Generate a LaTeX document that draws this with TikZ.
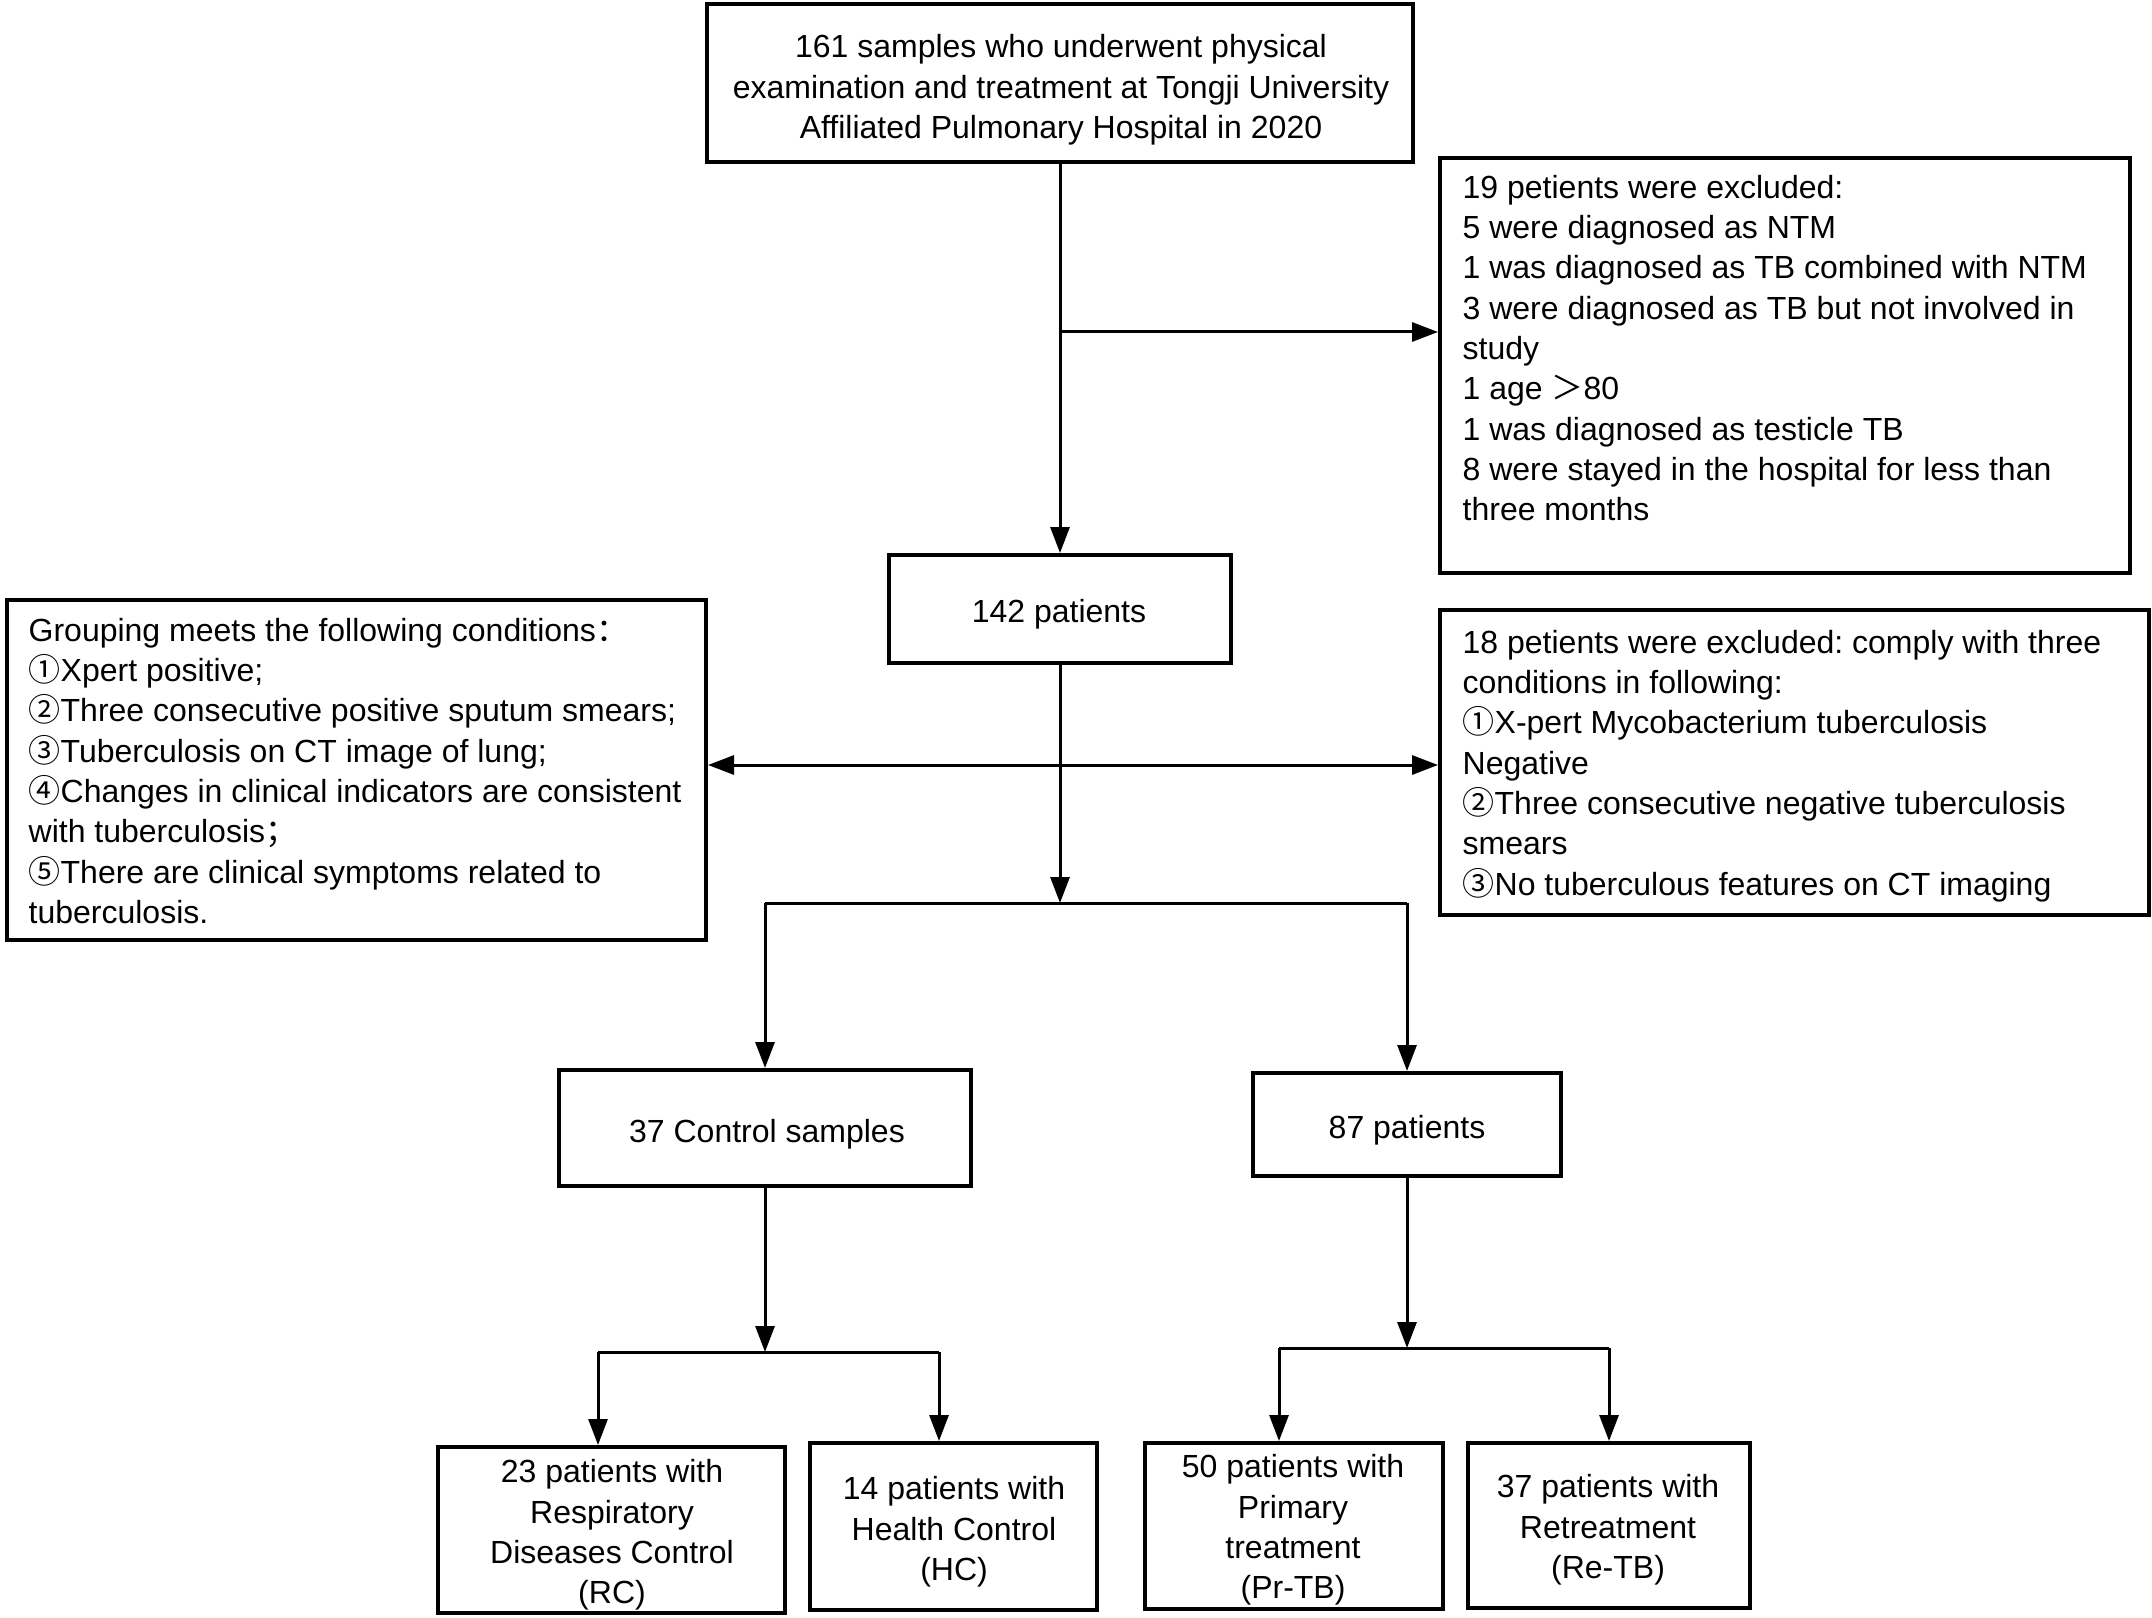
\documentclass[tikz,border=0pt]{standalone}
\usepackage{fontspec}
\setmainfont{Liberation Sans}
\newfontfamily\cjk{Noto Sans CJK SC}
\usetikzlibrary{arrows.meta,fit}
\newcommand\cn[1]{{\cjk #1}}
\frenchspacing
\begin{document}
\begin{tikzpicture}[x=0.3pt,y=-0.3pt,
  box/.style={draw, line width=1.2pt, inner sep=0pt},
  conn/.style={line width=0.9pt},
  arr/.style={conn, -{Triangle[length=7.8pt,width=5.7pt]}},
  txt/.style={font=\fontsize{9.6}{12.1}\selectfont, inner sep=0pt},
  ltxt/.style={txt, anchor=west, align=left},
  ctxt/.style={txt, align=center}]
\useasboundingbox[fill=white] (0,0) rectangle (2152,1617);

% boxes
\node[box, fit={(707,4)(1413,162)}] (top) {};
\node[box, fit={(1440,158)(2130,573)}] (ex1) {};
\node[box, fit={(889,555)(1231,663)}] (b142) {};
\node[box, fit={(7,600)(706,940)}] (grp) {};
\node[box, fit={(1440,610)(2149,915)}] (ex2) {};
\node[box, fit={(559,1070)(971,1186)}] (c37) {};
\node[box, fit={(1253,1073)(1561,1176)}] (c87) {};
\node[box, fit={(438,1447)(785,1613)}] (rc) {};
\node[box, fit={(810,1443)(1097,1610)}] (hc) {};
\node[box, fit={(1145,1443)(1443,1609)}] (pr) {};
\node[box, fit={(1468,1443)(1750,1608)}] (re) {};

% texts
\node[ctxt] (ttop) at (1061,90) {161 samples who underwent physical\\examination and treatment at Tongji University\\Affiliated Pulmonary Hospital in 2020};
\node[ltxt] (tex1) at (1462,348) {19 petients were excluded:\\5 were diagnosed as NTM\\1 was diagnosed as TB combined with NTM\\3 were diagnosed as TB but not involved in\\study\\1 age \cn{＞}80\\1 was diagnosed as testicle TB\\8 were stayed in the hospital for less than\\three months};
\node[ctxt] (t142) at (1059,614) {142 patients};
\node[ltxt] (tgrp) at (28,771) {Grouping meets the following conditions\cn{：}\\\cn{①}Xpert positive;\\\cn{②}Three consecutive positive sputum smears;\\\cn{③}Tuberculosis on CT image of lung;\\\cn{④}Changes in clinical indicators are consistent\\with tuberculosis\cn{；}\\\cn{⑤}There are clinical symptoms related to\\tuberculosis.};
\node[ltxt] (tex2) at (1462,766) {18 petients were excluded: comply with three\\conditions in following:\\\cn{①}X-pert Mycobacterium tuberculosis\\Negative\\\cn{②}Three consecutive negative tuberculosis\\smears\\\cn{③}No tuberculous features on CT imaging};
\node[ctxt] (t37) at (767,1134) {37 Control samples};
\node[ctxt] (t87) at (1407,1130) {87 patients};
\node[ctxt] (trc) at (612,1535) {23 patients with\\Respiratory\\Diseases Control\\(RC)};
\node[ctxt] (thc) at (954,1532) {14 patients with\\Health Control\\(HC)};
\node[ctxt] (tpr) at (1293,1530) {50 patients with\\Primary\\treatment\\(Pr-TB)};
\node[ctxt] (tre) at (1608,1530) {37 patients with\\Retreatment\\(Re-TB)};

% junctions
\coordinate (j1) at (1060,332);
\coordinate (j3) at (1060,765);
\coordinate (j2) at (1060,903);
\coordinate (bl) at (765,903);
\coordinate (br) at (1407,903);
\coordinate (j4) at (765,1352);
\coordinate (cl) at (598,1352);
\coordinate (cr) at (939,1352);
\coordinate (j5) at (1407,1348);
\coordinate (pl) at (1279,1348);
\coordinate (pr2) at (1609,1348);

% connectors
\draw[arr] (top.south -| j1) -- (b142.north -| j1);
\draw[arr] (j1) -- (j1 -| ex1.west);
\draw[arr] (b142.south -| j2) -- (j2);
\draw[arr] (j3) -- (j3 -| ex2.west);
\draw[arr] (j3) -- (j3 -| grp.east);
\draw[conn] (bl) -- (br);
\draw[arr] (bl) -- (bl |- c37.north);
\draw[arr] (br) -- (br |- c87.north);
\draw[arr] (c37.south -| j4) -- (j4);
\draw[conn] (cl) -- (cr);
\draw[arr] (cl) -- (cl |- rc.north);
\draw[arr] (cr) -- (cr |- hc.north);
\draw[arr] (c87.south -| j5) -- (j5);
\draw[conn] (pl) -- (pr2);
\draw[arr] (pl) -- (pl |- pr.north);
\draw[arr] (pr2) -- (pr2 |- re.north);
\end{tikzpicture}
\end{document}
